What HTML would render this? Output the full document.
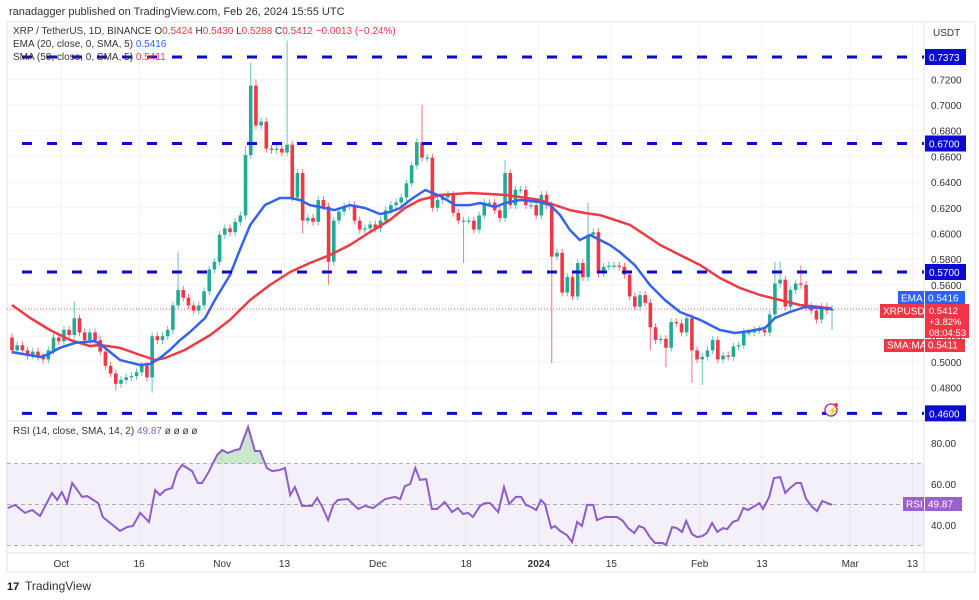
<!DOCTYPE html>
<html><head><meta charset="utf-8"><style>
html,body{margin:0;padding:0;background:#fff;width:979px;height:600px;overflow:hidden;font-family:"Liberation Sans",sans-serif}
svg{position:absolute;left:0;top:0}
</style></head><body>
<svg id="c" width="979" height="600"></svg>
<script>
// ---- data ----
const closes=[.509,.513,.509,.505,.508,.504,.502,.509,.519,.516,.525,.521,.534,.523,.517,.523,.517,.508,.497,.491,.483,.486,.488,.489,.492,.497,.488,.520,.517,.520,.525,.544,.556,.550,.544,.540,.544,.555,.572,
.578,.599,.604,.601,.609,.614,.661,.715,.684,.687,.666,.665,.666,.663,.669,.628,.647,.610,.612,.609,.626,.621,.578,
.610,.617,.621,.622,.610,.603,.604,.607,.604,.610,.618,.622,.624,
.628,.639,.653,.671,.659,.659,.620,.626,.628,.630,.616,.610,.610,.610,.603,.614,.624,.624,.618,.612,
.647,.622,.634,.634,.622,.622,.614,.630,.622,
.582,.585,.554,.566,.551,.577,.566,.599,.601,.569,.574,.575,.575,.574,.568,.551,.543,.552,.546,
.527,.517,.518,.511,.531,.530,.523,.534,.509,.502,.504,.509,.517,.502,.505,.504,.512,.513,
.523,.523,.525,.525,.523,.537,.561,.564,.543,.556,.561,.560,.543,.540,.533,.543,.540,.5412];
const firstOpen=.519;
const wickHigh={12:.547,32:.586,45:.668,46:.733,47:.720,53:.750,79:.700,95:.657,111:.624,147:.578,148:.578,152:.575};
const wickLow={20:.478,27:.476,56:.600,61:.560,87:.577,104:.499,123:.509,126:.496,131:.484,133:.482,158:.525};
const emaIdx=[0,5.4,6.7,9.2,12.1,16,17.9,20.8,24.7,26.6,28.5,30.4,32.4,34.3,37.2,39.1,42,43.9,45.9,48.7,51.6,53.6,55.5,57.4,59.3,62.2,65.1,68,70.9,72.8,74.8,76.7,79.6,80.5,82.5,85.4,88.2,90.2,93.1,95,97.9,101.7,103.7,105.6,107.5,109.4,111.4,113.3,115.2,117.1,120,122.9,125.8,128.7,132.6,136.4,139.3,142.2,145.1,147,149.9,152.8,155.7,158];
const emaVal=[.5077,.5039,.5054,.5109,.5148,.5163,.5109,.5015,.4976,.4984,.5031,.5093,.5171,.5233,.5342,.5482,.5677,.5871,.6066,.6221,.6276,.6276,.6260,.6221,.6206,.6182,.6221,.6198,.6151,.6167,.6198,.6260,.6338,.6323,.6292,.6221,.6221,.6237,.6206,.6237,.6260,.6245,.6221,.6143,.6027,.5949,.5988,.5949,.5910,.5856,.5754,.5599,.5482,.5389,.5327,.5249,.5225,.5241,.5264,.5342,.5389,.5428,.5420,.5416];
const smaIdx=[0,3.5,7.3,11.2,15,17,20.8,24.7,27.6,29.5,33.3,38.2,42,45.9,49.7,53.6,57.4,61.3,65.1,69,72.8,75.7,78.6,82.5,88.2,92.1,95,97.9,101.7,104.6,107.5,110.4,113.3,116.2,119.1,122,124.9,128.7,132.6,136.4,140.3,144.1,148,151.8,155.7,158];
const smaVal=[.5443,.5342,.5249,.5171,.5124,.5132,.5109,.5054,.5015,.5031,.5093,.5210,.5327,.5482,.5599,.5700,.5770,.5832,.5910,.6011,.6105,.6198,.6260,.6299,.6315,.6307,.6299,.6284,.6260,.6221,.6182,.6159,.6143,.6105,.6066,.5988,.5910,.5832,.5754,.5653,.5575,.5521,.5482,.5443,.5428,.5411];
const rsiIdx=[-0.8,0.6,2.5,3.9,5.4,7.7,8.7,9.6,10.6,11.6,13.5,14.5,16.6,17.5,20.8,22.2,23.3,24.7,26.4,27.6,28.5,29.5,30.8,31.8,32.8,34.7,35.8,36.6,37.8,39.5,40.5,41.6,43,43.9,45.5,46.8,47.8,49.1,50.1,51.5,52.6,53.6,54.5,55.9,57.8,58.8,59.7,60.9,61.9,62.8,64.7,66.7,68,69.6,71.9,73.8,74.8,75.7,76.7,77.7,78.6,79.8,80.9,81.9,83.4,84.8,85.9,86.9,87.9,88.8,90.2,91.1,
92.1,93.7,94.8,95.8,97.1,98.1,99,100,101,101.9,102.7,103.9,104.6,105.6,106.9,107.9,108.9,109.8,110.8,112,112.7,114.3,116.6,117.7,118.7,119.9,120.8,121.8,122.9,123.9,125.3,126,127.2,128.1,129.1,129.9,131,132,133,133.9,134.9,135.9,137,137.8,138.9,139.9,140.9,141.8,142.8,144,144.7,145.9,146.8,148,149,149.9,151.1,152,153,154.2,155.1,156.1,157.1,158];
const rsiVal=[48.3,49.8,45.9,47.3,44.4,55.6,52.2,56.1,50.7,60.5,53.7,54.1,50.7,43.9,37.1,39,39.5,45.9,41.5,57,54.6,57,58,65.9,69.3,66.3,60.5,60.5,65.4,74.1,76.6,75.1,76.6,77,87.8,76.1,76.1,67.8,66.3,66.8,67.8,54.6,58.5,49.3,49.3,53.2,49.3,42.4,49.8,52.2,52.7,47.8,49.3,48.3,52.7,53.7,52.7,59,60,67.8,62,62.4,47.8,47.8,51.2,46.3,48.3,45.4,45.9,43.9,49.3,50.7,
50.7,46.3,58.5,50.2,53.7,53.7,49.8,48.8,47.3,52.2,50.2,38.5,39.5,37.1,35.1,31.7,41.5,39.5,49.8,49.8,42.4,43.9,43.9,42,38.5,36.1,39.5,38.5,34.1,31.2,31.2,30.2,39,38.5,36.6,42,35.6,34.1,34.6,36.1,41,36.6,38.5,38,41.5,42.4,48.3,47.3,48.8,50.7,47.8,53.7,62.9,63.4,55.6,58,60.5,60.5,52.7,48.8,46.8,51.7,50.7,49.87];
const priceTicks=[0.48,0.50,0.52,0.54,0.56,0.58,0.60,0.62,0.64,0.66,0.68,0.70,0.72];
const levels=[0.7373,0.67,0.57,0.46];
const rsiTicks=[80,60,40];
const timeLabels=["Oct","16","Nov","13","Dec","18","2024","15","Feb","13","Mar","13"];
const timeDays=[9.5,24.5,40.5,52.5,70.5,87.5,101.5,115.5,132.5,144.5,161.5,173.5];
// ---- scales ----
const PL=7,PR=924,SEP=421;
const xOf=i=>12+5.19*i;
const yOf=p=>272-(p-0.57)*1285;
const rY=v=>443+(80-v)*2.05;
const svg=document.getElementById('c');
const NS='http://www.w3.org/2000/svg';
function el(tag,a,parent){const e=document.createElementNS(NS,tag);for(const k in a)e.setAttribute(k,a[k]);(parent||svg).appendChild(e);return e;}
function tx(s,x,y,a){const e=el('text',Object.assign({x:x,y:y,'font-size':10,fill:'#131722','font-family':'Liberation Sans, sans-serif'},a||{}));e.textContent=s;return e;}
// frame
const frame=el('rect',{x:7,y:22,width:968,height:550,fill:'#fff',stroke:'#e0e3eb'});

el('line',{x1:PR,y1:22,x2:PR,y2:572,stroke:'#e0e3eb'});
el('line',{x1:7,y1:SEP,x2:975,y2:SEP,stroke:'#e0e3eb'});
el('line',{x1:7,y1:553,x2:975,y2:553,stroke:'#e0e3eb'});
// grid
priceTicks.forEach(p=>{el('line',{x1:PL,x2:PR,y1:yOf(p),y2:yOf(p),stroke:'#f2f3f7'});
 const t=tx(p.toFixed(4),931,yOf(p)+4,{fill:'#333','font-size':10});
 });
timeLabels.forEach((s,k)=>{const x=xOf(timeDays[k]);el('line',{x1:x,x2:x,y1:22,y2:553,stroke:'#f2f3f7'});
 const t=tx(s,x,567,{'text-anchor':'middle',fill:'#333','font-weight':s==='2024'?'bold':'normal'});
 });
// RSI panel
const band=el('rect',{x:PL,y:rY(70),width:PR-PL,height:rY(30)-rY(70),fill:'#7e57c2','fill-opacity':0.09});

[70,50,30].forEach(v=>el('line',{x1:PL,x2:PR,y1:rY(v),y2:rY(v),stroke:'#999','stroke-dasharray':'4 3','stroke-width':0.8}));
rsiTicks.forEach(v=>{const t=tx(v.toFixed(2),931,rY(v)+4,{fill:'#333'});});
let rp='';rsiIdx.forEach((ix,k)=>{rp+=(k?'L':'M')+xOf(ix).toFixed(1)+','+rY(rsiVal[k]).toFixed(1);});
const clip=el('clipPath',{id:'ob'});el('rect',{x:PL,y:SEP,width:PR-PL,height:rY(70)-SEP},clip);
const ob=el('path',{d:rp+'L'+xOf(rsiIdx[rsiIdx.length-1])+','+rY(70)+'L'+xOf(rsiIdx[0])+','+rY(70)+'Z',fill:'#4caf50','fill-opacity':0.3,'clip-path':'url(#ob)'});

const rl=el('path',{d:rp,fill:'none',stroke:'#8e5cc9','stroke-width':2});

// candles
let prev=firstOpen;
closes.forEach((c,i)=>{const o=prev;prev=c;const up=c>=o;const col=up?'#22ab94':'#f23645';
 const hi=wickHigh[i]!==undefined?wickHigh[i]:Math.max(o,c)+0.003;
 const lo=wickLow[i]!==undefined?wickLow[i]:Math.min(o,c)-0.003;
 const x=xOf(i);const g=el('g',{});
 
 el('line',{x1:x,x2:x,y1:yOf(hi),y2:yOf(lo),stroke:col,'stroke-width':1,'stroke-opacity':0.7},g);
 const t=Math.min(yOf(o),yOf(c)),h=Math.max(1.2,Math.abs(yOf(o)-yOf(c)));
 el('rect',{x:x-1.8,y:t,width:3.6,height:h,fill:col},g);});
// MAs
function line(ix,vals,col,name){let d='';ix.forEach((k,j)=>{d+=(j?'L':'M')+xOf(k).toFixed(1)+','+yOf(vals[j]).toFixed(1);});
 const p=el('path',{d:d,fill:'none',stroke:col,'stroke-width':2.5,'stroke-linejoin':'round'});
 }
line(smaIdx,smaVal,'#ec3b45','sma-50-line');
line(emaIdx,emaVal,'#3463f0','ema-20-line');
el('line',{x1:PL,x2:PR,y1:yOf(0.5412),y2:yOf(0.5412),stroke:'#f23645','stroke-dasharray':'1 2','stroke-width':0.8});
// key levels
levels.forEach(p=>{const y=yOf(p);const l=el('line',{x1:PL+15,x2:PR,y1:y,y2:y,stroke:'#0a0ad0','stroke-width':3,'stroke-dasharray':'10 15'});
 
 el('rect',{x:925,y:y-8,width:41,height:16,fill:'#0a0ad0'});
 const t=tx(p.toFixed(4),929,y+4,{fill:'#fff'});});
// right side labels
function box(x,y,w,h,fill,s,name){const r=el('rect',{x:x,y:y,width:w,height:h,fill:fill});
 tx(s,x+3,y+h-3.5,{fill:'#fff'});}
box(898,291,26,14,'#2962ff','EMA','ema-tag');box(925,291,40,14,'#2962ff','0.5416','ema-value');
box(880,304,44,14,'#f23645','XRPUSDT','symbol-tag');
el('rect',{x:925,y:304,width:44,height:34,fill:'#f23645'});
tx('0.5412',929,314,{fill:'#fff','font-size':9.5});tx('+3.82%',929,325,{fill:'#fff','font-size':9.5});tx('08:04:53',929,336,{fill:'#fff','font-size':9.5});
box(884,339,40,13,'#f23645','SMA:MA','sma-tag');box(925,339,40,13,'#f23645','0.5411','sma-value');
box(903,497,21,14,'#9c5fd0','RSI','rsi-tag');box(925,497,37,14,'#9c5fd0','49.87','rsi-value');
tx('USDT',933,36,{fill:'#333'});
// legend
tx('ranadagger published on TradingView.com, Feb 26, 2024 15:55 UTC',9,15,{fill:'#333','font-size':11});
const lg=tx('',13,34,{'font-size':10,fill:'#333'});
lg.innerHTML='XRP / TetherUS, 1D, BINANCE  O<tspan fill="#f23645">0.5424</tspan> H<tspan fill="#f23645">0.5430</tspan> L<tspan fill="#f23645">0.5288</tspan> C<tspan fill="#f23645">0.5412</tspan> <tspan fill="#f23645">−0.0013 (−0.24%)</tspan>';
const le=tx('',13,47,{fill:'#333'});
le.innerHTML='EMA (20, close, 0, SMA, 5) <tspan fill="#2962ff">0.5416</tspan>';
const ls=tx('',13,60,{fill:'#333'});
ls.innerHTML='SMA (50, close, 0, SMA, 5) <tspan fill="#f23645">0.5411</tspan>';
const lr=tx('',13,434,{fill:'#333'});
lr.innerHTML='RSI (14, close, SMA, 14, 2) <tspan fill="#8e5cc9">49.87</tspan>  ø  ø  ø  ø';
// lightning icon
const ic=el('circle',{cx:831,cy:410,r:6,fill:'#fff',stroke:'#a0288c','stroke-width':1.3});

tx('⚡',827,414,{fill:'#a0288c','font-size':9});
el('circle',{cx:836,cy:405,r:2,fill:'#f23645'});
// footer
const ft=tx('TradingView',25,590,{fill:'#333','font-size':12});
tx('17',7,590,{fill:'#131722','font-size':11,'font-weight':'bold'});
</script>
</body></html>
